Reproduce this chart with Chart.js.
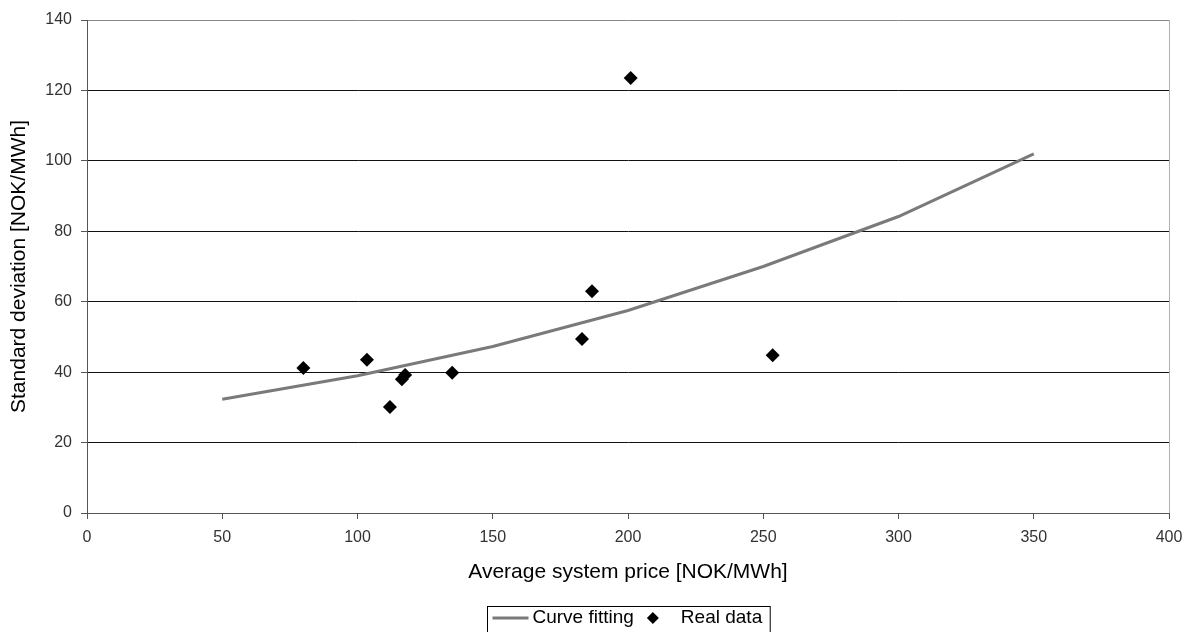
<!DOCTYPE html>
<html>
<head>
<meta charset="utf-8">
<script src="https://cdn.jsdelivr.net/npm/chart.js@4.4.1/dist/chart.umd.min.js"></script>
<style>
  html, body { margin: 0; padding: 0; background: #fff; }
  #wrap { width: 1194px; height: 632px; position: relative; }
</style>
</head>
<body>
<div id="wrap"><canvas id="chart" width="1194" height="632"></canvas></div>
<script>
// Data
const curveX = [50, 100, 150, 200, 250, 300, 350];
const curveY = [32.3, 39, 47.3, 57.5, 70, 84.2, 102];
const realX = [80, 103.5, 112, 116.4, 117.6, 135, 183, 186.7, 201, 253.5];
const realY = [41.2, 43.5, 30.1, 38, 39.2, 39.8, 49.4, 63, 123.5, 44.8];
const xTicks = [0, 50, 100, 150, 200, 250, 300, 350, 400];
const yTicks = [0, 20, 40, 60, 80, 100, 120, 140];

const FONT = '"Liberation Sans", Arial, sans-serif';
const LINE_COLOR = '#7a7a7a';

// right frame line + boxed legend
const framePlugin = {
    id: 'frame',
    afterDraw(chart) {
        const ctx = chart.ctx;
        const a = chart.chartArea;
        ctx.save();
        ctx.strokeStyle = '#b0b0b0';
        ctx.lineWidth = 1;
        ctx.beginPath();
        ctx.moveTo(a.right + 0.5, a.top);
        ctx.lineTo(a.right + 0.5, a.bottom);
        ctx.stroke();

        // legend
        const ds = chart.data.datasets;
        const top = 606, h = 30;
        ctx.font = '19px ' + FONT;
        const w1 = ctx.measureText(ds[0].label).width;
        const w2 = ctx.measureText(ds[1].label).width;
        const total = 5 + 36 + 4 + w1 + 19 + 28 + w2 + 8;
        const left = Math.round(628 - total / 2) + 0.5;
        ctx.strokeStyle = '#000';
        ctx.strokeRect(left, top + 0.5, total, h);
        const cy = top + 12;
        let x = left + 5;
        ctx.strokeStyle = ds[0].borderColor;
        ctx.lineWidth = 3;
        ctx.beginPath();
        ctx.moveTo(x, cy);
        ctx.lineTo(x + 36, cy);
        ctx.stroke();
        x += 40;
        ctx.fillStyle = '#000';
        ctx.textBaseline = 'middle';
        ctx.fillText(ds[0].label, x, cy);
        x += w1 + 19;
        ctx.beginPath();
        ctx.moveTo(x, cy - 6);
        ctx.lineTo(x + 6, cy);
        ctx.lineTo(x, cy + 6);
        ctx.lineTo(x - 6, cy);
        ctx.closePath();
        ctx.fill();
        x += 28;
        ctx.fillText(ds[1].label, x, cy);
        ctx.restore();
    }
};

const ctx = document.getElementById('chart').getContext('2d');
new Chart(ctx, {
    type: 'scatter',
    data: {
        datasets: [
            {
                label: 'Curve fitting',
                data: curveX.map((x, i) => ({ x: x, y: curveY[i] })),
                showLine: true,
                borderColor: LINE_COLOR,
                borderWidth: 3,
                pointRadius: 0,
                tension: 0
            },
            {
                label: 'Real data',
                data: realX.map((x, i) => ({ x: x, y: realY[i] })),
                pointStyle: 'rectRot',
                pointRadius: 7,
                backgroundColor: '#000',
                borderColor: '#000',
                borderWidth: 0
            }
        ]
    },
    options: {
        responsive: false,
        animation: false,
        layout: { padding: { left: 0, right: 25, top: 20, bottom: 39 } },
        plugins: {
            legend: { display: false },
            tooltip: { enabled: false }
        },
        scales: {
            x: {
                type: 'linear',
                min: 0,
                max: 400,
                afterBuildTicks: axis => { axis.ticks = xTicks.map(v => ({ value: v })); },
                afterFit: axis => { axis.height = 80; },
                grid: { drawOnChartArea: false, tickLength: 6, color: '#555', tickColor: '#555' },
                border: { color: '#555', width: 1 },
                ticks: { color: '#333', font: { family: FONT, size: 16 }, padding: 9, maxRotation: 0 },
                title: {
                    display: true,
                    text: 'Average system price [NOK/MWh]',
                    color: '#000',
                    font: { family: FONT, size: 21 },
                    padding: { top: 4, bottom: 8 }
                }
            },
            y: {
                type: 'linear',
                min: 0,
                max: 140,
                afterBuildTicks: axis => { axis.ticks = yTicks.map(v => ({ value: v })); },
                afterFit: axis => { axis.width = 87; },
                grid: {
                    color: ctx => ctx.tick && ctx.tick.value === 140 ? '#888' : '#111',
                    lineWidth: 1,
                    tickLength: 6,
                    tickColor: '#555'
                },
                border: { color: '#555', width: 1 },
                ticks: { color: '#333', font: { family: FONT, size: 16 }, padding: 9 },
                title: {
                    display: true,
                    text: 'Standard deviation [NOK/MWh]',
                    color: '#000',
                    font: { family: FONT, size: 21 },
                    padding: { top: 7, bottom: 0 }
                }
            }
        }
    },
    plugins: [framePlugin]
});
</script>
</body>
</html>
